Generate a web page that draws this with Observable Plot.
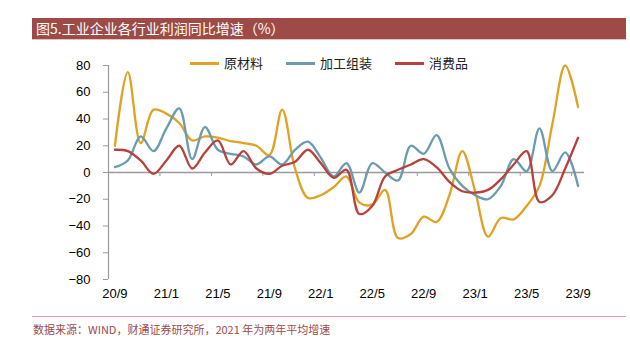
<!DOCTYPE html>
<html><head><meta charset="utf-8">
<script src="https://cdn.jsdelivr.net/npm/d3@7"></script>
<script src="https://cdn.jsdelivr.net/npm/@observablehq/plot@0.6"></script>
<style>
body{margin:0;background:#fff;}
#wrap{position:relative;width:630px;height:339px;overflow:hidden;background:#fff;}
#chart{position:absolute;left:0;top:0;}
#title{position:absolute;left:32px;top:18px;width:594px;height:21px;background:#9E4A46;color:#fff;font-family:"Noto Sans CJK SC";font-size:14px;line-height:21px;padding-left:4px;box-sizing:border-box;white-space:nowrap;}
#topline{position:absolute;left:32px;top:39px;width:594px;height:1px;background:#E3C4C2;}
#rule{position:absolute;left:32px;top:316px;width:594px;height:1px;background:#D3A09D;}
#cap{position:absolute;left:33px;top:321px;font-family:"Noto Sans CJK SC";font-size:11px;color:#9E4A46;white-space:nowrap;}
.lg{position:absolute;top:54px;height:18px;font-family:"Noto Sans CJK SC";font-size:13px;line-height:18px;color:#222;white-space:nowrap;}
.lg span{display:inline-block;width:29px;height:3px;vertical-align:middle;margin-right:5px;margin-top:-2px;}
</style></head>
<body>
<div id="wrap">
  <div id="chart"></div>
  <div id="title"></div>
  <div id="topline"></div>
  <div id="legend"></div>
  <div id="rule"></div>
  <div id="cap"></div>
</div>
<script>
const titleText = "图5.工业企业各行业利润同比增速（%）";
const captionText = "数据来源：WIND，财通证券研究所，2021 年为两年平均增速";

const months = ["20/9","20/10","20/11","20/12","21/1","21/2","21/3","21/4","21/5","21/6","21/7","21/8",
  "21/9","21/10","21/11","21/12","22/1","22/2","22/3","22/4","22/5","22/6","22/7","22/8",
  "22/9","22/10","22/11","22/12","23/1","23/2","23/3","23/4","23/5","23/6","23/7","23/8","23/9"];
const tickLabels = ["20/9","21/1","21/5","21/9","22/1","22/5","22/9","23/1","23/5","23/9"];
const yTicks = [-80,-60,-40,-20,0,20,40,60,80];

const seriesNames = ["原材料","加工组装","消费品"];
const seriesColors = ["#E0A224","#6B9BB0","#B6423E"];
const rawMaterial = [20,75,22,47,44,37,24,27,26,23.5,22,20,13,47,3,-19,-17,-11,-3,-22.5,-24,-13,-49,-46,-33,-37,-17,16,-14,-48,-34,-35,-25,-10,36,80,49];
const assembly = [4,9,27,16,33,48,10,34,17,14,12,6,12,6,17,23,11,-3,7,-15,7,0,-6,20,14,28,3,-10,-17,-20,-10,10,1,33,1,15,-10];
const consumer = [17,16,9,-1,9,20,3,15,24,6,16,3,-1,5,8,17,7,-4,2,-31,-25,-3,2,6,10,4,-7,-14,-15,-13,-5,6,16,-22,-17,3,26];
const seriesValues = [rawMaterial, assembly, consumer];

document.getElementById("title").textContent = titleText;
document.getElementById("cap").textContent = captionText;

const legendX = [190, 286, 395];
const legend = document.getElementById("legend");
seriesNames.forEach((n,k)=>{
  const d = document.createElement("div");
  d.className = "lg";
  d.style.left = legendX[k] + "px";
  d.innerHTML = `<span style="background:${seriesColors[k]}"></span>${n}`;
  legend.appendChild(d);
});

const rows = seriesNames.flatMap((name,k)=>seriesValues[k].map((v,i)=>({i, v, name})));
const labelIdx = tickLabels.map(t=>months.indexOf(t));
const tickBounds = labelIdx.slice(1).map(i=>i-0.5);

const chart = Plot.plot({
  width:630, height:339,
  marginLeft:108, marginRight:46, marginTop:65, marginBottom:60,
  x:{domain:[-0.5, months.length-0.5], axis:null},
  y:{domain:[-80,80], axis:null},
  color:{domain:seriesNames, range:seriesColors},
  style:{fontFamily:"'Liberation Sans', Arial, sans-serif", fontSize:"13px", color:"#000", background:"transparent"},
  marks:[
    Plot.ruleY([0], {stroke:"#9a9a9a", strokeWidth:1.5}),
    Plot.ruleX(tickBounds, {x:d=>d, y1:0, y2:-3, stroke:"#9a9a9a", strokeWidth:1}),
    Plot.ruleX([-0.5], {stroke:"#9a9a9a", strokeWidth:1.2}),
    Plot.axisY({ticks:yTicks, tickSize:5, tickPadding:13, stroke:"#9a9a9a", fill:"#000", fontSize:13, label:null}),
    Plot.text(labelIdx, {x:d=>d, text:d=>months[d], frameAnchor:"bottom", dy:18, fill:"#000", fontSize:13, fontWeight:"normal"}),
    Plot.line(rows, {x:"i", y:"v", z:"name", stroke:"name", curve:"catmull-rom", strokeWidth:2.3})
  ]
});
document.getElementById("chart").appendChild(chart);
</script>
</body></html>
